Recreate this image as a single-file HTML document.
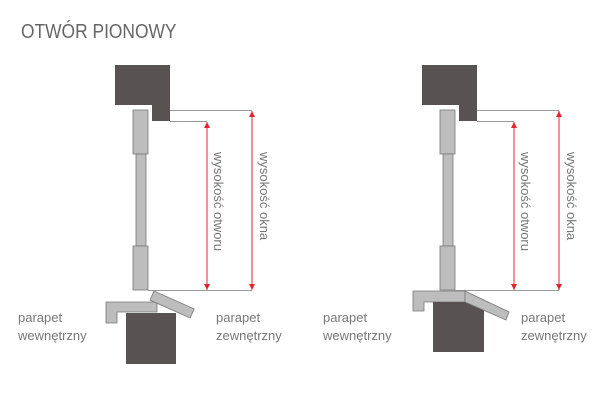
<!DOCTYPE html>
<html><head><meta charset="utf-8"><style>
body{margin:0;background:#fff;width:612px;height:404px;overflow:hidden;font-family:"Liberation Sans",sans-serif;}
</style></head><body>
<svg width="612" height="404" viewBox="0 0 612 404" xmlns="http://www.w3.org/2000/svg" font-family="Liberation Sans, sans-serif">
<defs>
<marker id="a" viewBox="0 0 10 10" refX="10" refY="5" markerWidth="7" markerHeight="6" markerUnits="userSpaceOnUse" orient="auto-start-reverse"><path d="M0,0 L10,5 L0,10 z" fill="#e3262d"/></marker>
</defs>
<text x="21" y="38" font-size="20" fill="#666" transform="translate(21 0) scale(0.87 1) translate(-21 0)">OTWÓR PIONOWY</text>

<g id="L">
<path d="M115,65 H170 V121 H152 V105 H115 Z" fill="#585352"/>
<rect x="133" y="110" width="15" height="44" fill="#bdbdbd" stroke="#777" stroke-width="0.8"/>
<rect x="136" y="154" width="10" height="92" fill="#bdbdbd" stroke="#777" stroke-width="0.8"/>
<rect x="133" y="246" width="15" height="44" fill="#bdbdbd" stroke="#777" stroke-width="0.8"/>
<line x1="170" y1="110.5" x2="252" y2="110.5" stroke="#999" stroke-width="1"/>
<line x1="170" y1="121.5" x2="207" y2="121.5" stroke="#999" stroke-width="1"/>
<line x1="148" y1="290.5" x2="252" y2="290.5" stroke="#999" stroke-width="1"/>
<line x1="207" y1="122" x2="207" y2="290" stroke="#e3262d" stroke-width="1" marker-start="url(#a)" marker-end="url(#a)"/>
<line x1="252" y1="111" x2="252" y2="290" stroke="#e3262d" stroke-width="1" marker-start="url(#a)" marker-end="url(#a)"/>
<text transform="translate(214 152) rotate(90)" font-size="13" fill="#777">wysokość otworu</text>
<text transform="translate(260 152) rotate(90)" font-size="13" fill="#777">wysokość okna</text>
</g>
<path d="M106,302 H157 V312 H117 V323 H106 Z" fill="#bdbdbd" stroke="#777" stroke-width="0.8"/>
<rect x="126" y="313" width="50" height="51" fill="#585352"/>
<rect x="0" y="0" width="44" height="10" fill="#bdbdbd" stroke="#777" stroke-width="0.8" transform="translate(154 291) rotate(24)"/>

<use href="#L" transform="translate(307 0)"/>
<path d="M413,291 H465 V302 H424 V311 H413 Z" fill="#bdbdbd" stroke="#777" stroke-width="0.8"/>
<rect x="433" y="302" width="51" height="50" fill="#585352"/>
<path d="M465,291 L509,312 L506,320 L465,302 Z" fill="#bdbdbd" stroke="#777" stroke-width="0.8"/>

<g font-size="13" fill="#777">
<text x="18" y="322">parapet</text><text x="18" y="340">wewnętrzny</text>
<text x="216" y="322">parapet</text><text x="216" y="340">zewnętrzny</text>
<text x="323" y="322">parapet</text><text x="323" y="340">wewnętrzny</text>
<text x="521" y="322">parapet</text><text x="521" y="340">zewnętrzny</text>
</g>
</svg>
</body></html>
